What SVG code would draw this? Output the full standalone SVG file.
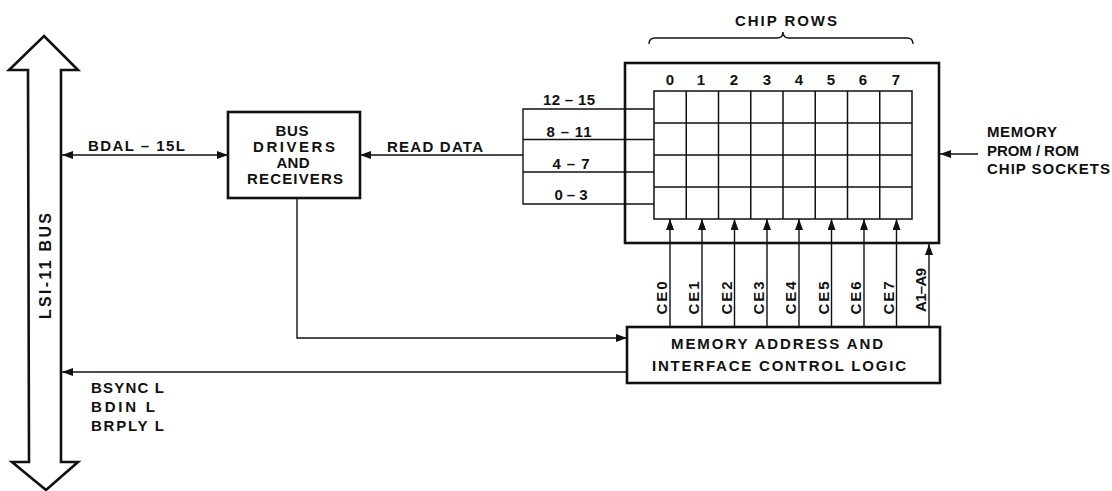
<svg xmlns="http://www.w3.org/2000/svg" width="1112" height="491" viewBox="0 0 1112 491">
<style>
text{font-family:"Liberation Sans",Arial,sans-serif;font-size:15px;font-weight:bold;fill:#111}
.m{text-anchor:middle}
.box{fill:#fff;stroke:#111;stroke-width:2.6}
.thin{fill:none;stroke:#111;stroke-width:1.4}
.grid{fill:none;stroke:#111;stroke-width:1.5}
</style>
<defs>
<marker id="ah" markerUnits="userSpaceOnUse" markerWidth="11" markerHeight="8" refX="11" refY="4" orient="auto-start-reverse">
<path d="M0,0 L11,4 L0,8 z" fill="#111"/>
</marker>
</defs>
<rect width="1112" height="491" fill="#fff"/>

<g id="lsi11-bus">
<polygon class="box" points="44,36 78,70 61,70 61,462 78,462 46,490 12,462 29,462 28,70 9,70"/>
<text transform="translate(51,266) rotate(-90)" class="m" textLength="106" lengthAdjust="spacing" style="font-size:16px">LSI-11 BUS</text>
</g>

<g id="bus-drivers">
<rect class="box" x="228" y="112" width="132" height="86"/>
<text class="m" x="292" y="136" textLength="33" lengthAdjust="spacing">BUS</text>
<text class="m" x="294" y="152" textLength="82" lengthAdjust="spacing">DRIVERS</text>
<text class="m" x="293" y="168" textLength="33" lengthAdjust="spacing">AND</text>
<text class="m" x="295" y="184" textLength="96" lengthAdjust="spacing">RECEIVERS</text>
</g>

<g id="chip-sockets">
<path class="thin" d="M649,44 Q649,38 655,38 L777,38 Q783,38 783,32 Q783,38 789,38 L907,38 Q913,38 913,44"/>
<text class="m" x="786" y="26" textLength="102" lengthAdjust="spacing">CHIP ROWS</text>
<rect class="box" x="625" y="63" width="314" height="180" fill="none"/>
<rect class="grid" x="654" y="91" width="258" height="128"/>
<path class="grid" d="M654,123 H912 M654,155 H912 M654,187 H912 M686.25,91 V219 M718.5,91 V219 M750.75,91 V219 M783,91 V219 M815.25,91 V219 M847.5,91 V219 M879.75,91 V219"/>
<text class="m" x="670" y="85">0</text>
<text class="m" x="701" y="85">1</text>
<text class="m" x="734" y="85">2</text>
<text class="m" x="767" y="85">3</text>
<text class="m" x="799" y="85">4</text>
<text class="m" x="831" y="85">5</text>
<text class="m" x="863" y="85">6</text>
<text class="m" x="896" y="85">7</text>
</g>

<g id="memory-logic">
<rect class="box" x="627" y="327" width="313" height="56"/>
<text class="m" x="777" y="349" textLength="212" lengthAdjust="spacing">MEMORY ADDRESS AND</text>
<text class="m" x="779" y="371" textLength="254" lengthAdjust="spacing">INTERFACE CONTROL LOGIC</text>
</g>

<g id="connectors">
<line class="thin" x1="62" y1="155" x2="228" y2="155" marker-start="url(#ah)" marker-end="url(#ah)"/>
<path class="thin" d="M523,155 H360" marker-end="url(#ah)"/>
<path class="thin" d="M654,109 H523 V204 H654 M523,139.5 H654 M523,172 H654"/>
<path class="thin" d="M297,198 V338 H627" marker-end="url(#ah)"/>
<path class="thin" d="M627,372 H62" marker-end="url(#ah)"/>
<path class="thin" d="M670,327 V219" marker-end="url(#ah)"/>
<path class="thin" d="M702,327 V219" marker-end="url(#ah)"/>
<path class="thin" d="M734.5,327 V219" marker-end="url(#ah)"/>
<path class="thin" d="M767,327 V219" marker-end="url(#ah)"/>
<path class="thin" d="M799,327 V219" marker-end="url(#ah)"/>
<path class="thin" d="M831.5,327 V219" marker-end="url(#ah)"/>
<path class="thin" d="M864,327 V219" marker-end="url(#ah)"/>
<path class="thin" d="M896.5,327 V219" marker-end="url(#ah)"/>
<path class="thin" d="M929,327 V244" marker-end="url(#ah)"/>
<path class="thin" d="M978,154 H940" marker-end="url(#ah)"/>
</g>

<g id="labels">
<text x="88" y="151" textLength="97" lengthAdjust="spacing">BDAL – 15L</text>
<text x="387" y="152" textLength="96" lengthAdjust="spacing">READ DATA</text>
<text class="m" x="569" y="105" textLength="52" lengthAdjust="spacing">12 – 15</text>
<text class="m" x="569" y="137" textLength="45" lengthAdjust="spacing">8 – 11</text>
<text class="m" x="571" y="169" textLength="37" lengthAdjust="spacing">4 – 7</text>
<text class="m" x="571" y="200" textLength="33" lengthAdjust="spacing">0 – 3</text>
<text x="91" y="393" textLength="73" lengthAdjust="spacing">BSYNC L</text>
<text x="91" y="412" textLength="64" lengthAdjust="spacing">BDIN L</text>
<text x="91" y="431" textLength="73" lengthAdjust="spacing">BRPLY L</text>
<text x="987" y="137" textLength="70" lengthAdjust="spacing">MEMORY</text>
<text x="987" y="156" textLength="92" lengthAdjust="spacing">PROM / ROM</text>
<text x="987" y="174" textLength="123" lengthAdjust="spacing">CHIP SOCKETS</text>
<text class="m" transform="translate(667,298) rotate(-90)" textLength="33" lengthAdjust="spacing">CE0</text>
<text class="m" transform="translate(699,298) rotate(-90)" textLength="33" lengthAdjust="spacing">CE1</text>
<text class="m" transform="translate(731.5,298) rotate(-90)" textLength="33" lengthAdjust="spacing">CE2</text>
<text class="m" transform="translate(764,298) rotate(-90)" textLength="33" lengthAdjust="spacing">CE3</text>
<text class="m" transform="translate(796,298) rotate(-90)" textLength="33" lengthAdjust="spacing">CE4</text>
<text class="m" transform="translate(828.5,298) rotate(-90)" textLength="33" lengthAdjust="spacing">CE5</text>
<text class="m" transform="translate(861,298) rotate(-90)" textLength="33" lengthAdjust="spacing">CE6</text>
<text class="m" transform="translate(893.5,298) rotate(-90)" textLength="33" lengthAdjust="spacing">CE7</text>
<text class="m" transform="translate(925.5,290) rotate(-90)" textLength="44" lengthAdjust="spacing">A1–A9</text>
</g>
</svg>
